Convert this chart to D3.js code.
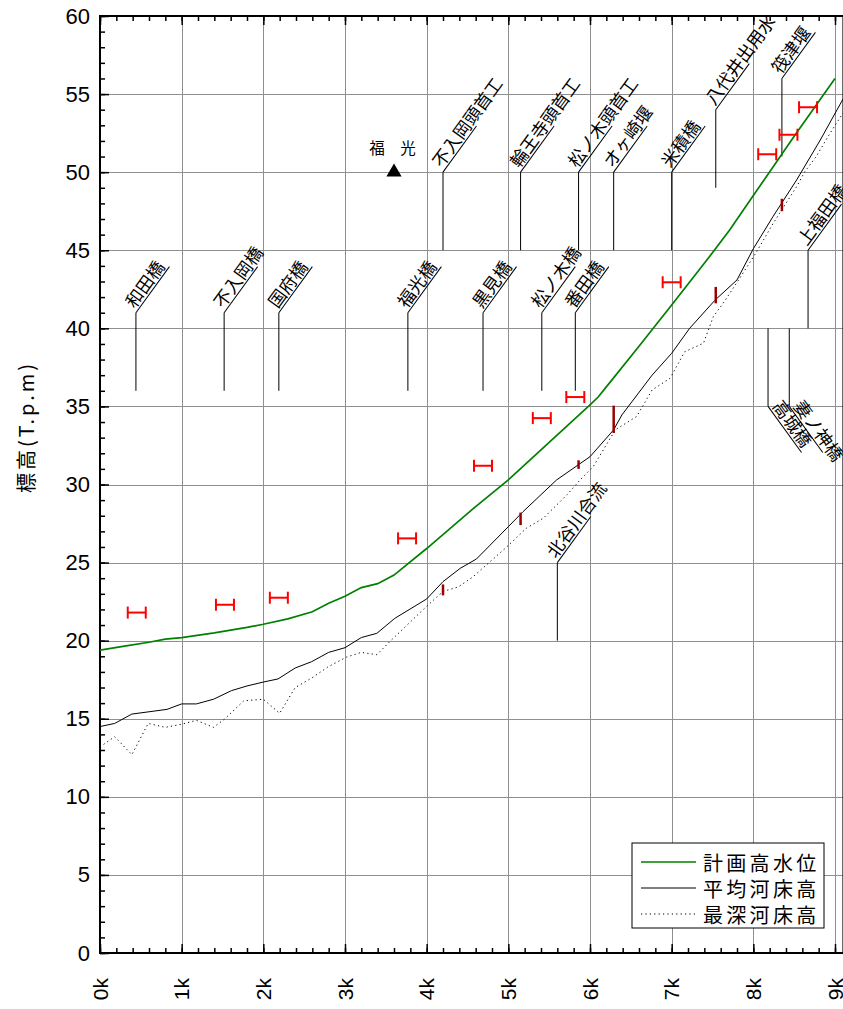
<!DOCTYPE html>
<html><head><meta charset="utf-8">
<script src="https://cdn.jsdelivr.net/npm/d3@7"></script>
<style>body{margin:0;background:#fff} svg{display:block}</style>
</head><body>
<script>
// ---------------- data ----------------
const kmTicks = [0,1,2,3,4,5,6,7,8,9];
const xTickLabels = ["0k","1k","2k","3k","4k","5k","6k","7k","8k","9k"];
const yTicks = [0,5,10,15,20,25,30,35,40,45,50,55,60];
const seriesNames = ["計画高水位","平均河床高","最深河床高"];
const yTitle = "標高(T.p.m)";

// 計画高水位 [km, m]
const planHWL = [[0,19.4],[0.3,19.65],[0.6,19.9],[0.8,20.1],[1.0,20.2],[1.4,20.5],[1.8,20.85],[2.0,21.05],[2.3,21.4],[2.6,21.85],[2.8,22.4],[3.0,22.85],[3.2,23.4],[3.4,23.65],[3.6,24.2],[4.0,25.9],[4.57,28.45],[5.0,30.3],[5.5,32.7],[6.0,35.1],[6.1,35.6],[6.2,36.25],[6.6,38.85],[7.0,41.5],[7.45,44.5],[7.71,46.3],[8.0,48.5],[8.5,52.3],[9.0,56.0]];
// 平均河床高
const meanBed = [[0,14.5],[0.18,14.7],[0.39,15.3],[0.82,15.6],[1.0,15.95],[1.18,15.95],[1.39,16.25],[1.61,16.8],[1.8,17.1],[2.0,17.35],[2.18,17.55],[2.39,18.25],[2.59,18.65],[2.8,19.25],[3.0,19.55],[3.2,20.2],[3.39,20.47],[3.61,21.43],[4.0,22.67],[4.2,23.78],[4.41,24.63],[4.61,25.23],[5.0,27.3],[5.18,28.26],[5.59,30.29],[6.0,31.78],[6.29,33.5],[6.39,34.45],[6.76,37.0],[7.0,38.4],[7.22,40.0],[7.53,41.8],[7.8,43.1],[8.0,45.1],[8.24,47.15],[8.53,49.5],[8.82,52.06],[9.1,54.7]];
// 最深河床高
const deepBed = [[0,13.2],[0.18,13.85],[0.39,12.7],[0.59,14.7],[0.8,14.45],[1.0,14.65],[1.18,14.9],[1.39,14.45],[1.53,15.0],[1.76,16.15],[2.0,16.25],[2.2,15.35],[2.39,17.0],[2.59,17.6],[2.8,18.35],[3.02,18.95],[3.2,19.25],[3.39,19.1],[3.57,20.05],[4.0,22.2],[4.2,23.15],[4.39,23.45],[4.57,24.1],[4.98,26.0],[5.22,27.2],[5.43,27.85],[5.72,29.35],[5.88,30.3],[6.04,31.15],[6.31,33.5],[6.57,34.35],[6.76,36.05],[6.98,36.8],[7.16,38.5],[7.39,39.05],[7.51,40.75],[7.63,41.6],[7.82,43.1],[8.04,44.9],[8.24,46.7],[8.53,49.07],[8.63,50.03],[8.77,51.0],[8.94,52.5],[9.1,53.8]];
// red H markers [km, m]
const hMarkers = [[0.45,21.8],[1.53,22.3],[2.19,22.75],[3.76,26.55],[4.69,31.2],[5.41,34.25],[5.82,35.6],[7.0,42.95],[8.17,51.15],[8.43,52.4],[8.67,54.15]];
// dark red bars [km, low, high]
const redBars = [[4.2,22.9,23.6],[5.15,27.4,28.2],[5.86,31.0,31.55],[6.29,33.3,35.05],[7.54,41.6,42.65],[8.35,47.5,48.3]];
// annotation labels
const labelKm   = [0.44,1.52,2.19,3.77,4.69,5.41,5.82,4.2,5.15,5.86,6.29,7.0,7.54,8.35,8.67,8.18,8.44,5.6];
const labelFrom = [36,36,36,36,36,36,36,45,45,45,45,45,49,51,40,40,40,20];
const labelTo   = [41,41,41,41,41,41,41,50,50,50,50,50,54,56,45,35,35,25];
const labelText = ["和田橋","不入岡橋","国府橋","福光橋","黒見橋","松ノ木橋","番田橋","不入岡頭首工","輪王寺頭首工","松ノ木頭首工","オヶ崎堰","米積橋","八代井出用水","筏津堰","上福田橋","高城橋","妻ノ神橋","北谷川合流"];
const triangleMark = {km:3.6, v:50, text:"福　光"};

// ---------------- drawing ----------------
const W = 843, H = 1009;
const CJK = "'Noto Sans CJK JP','Noto Sans',sans-serif";
const svg = d3.select("body").append("svg").attr("width", W).attr("height", H);
const x = d3.scaleLinear().domain([0, 9]).range([100, 835]);
const y = d3.scaleLinear().domain([0, 60]).range([953, 16]);
const xMax = 9.1;

svg.append("defs").append("clipPath").attr("id", "plotclip")
  .append("rect").attr("x", x(0)).attr("y", y(60)).attr("width", x(xMax) - x(0)).attr("height", y(0) - y(60));

// grid
const grid = svg.append("g").attr("stroke", "#8f8f8f").attr("stroke-width", 1);
grid.selectAll("line.v").data(kmTicks.filter(d => d > 0)).join("line")
  .attr("x1", d => Math.round(x(d)) + 0.5).attr("x2", d => Math.round(x(d)) + 0.5)
  .attr("y1", y(0)).attr("y2", y(60));
grid.selectAll("line.h").data(yTicks.filter(d => d > 0 && d < 60)).join("line")
  .attr("x1", x(0)).attr("x2", x(xMax))
  .attr("y1", d => Math.round(y(d)) + 0.5).attr("y2", d => Math.round(y(d)) + 0.5);

// axes (ticks inward)
const minorY = d3.range(0, 61);
const minorX = d3.range(0, 46).map(i => +(i * 0.2).toFixed(1)).filter(d => d <= xMax);
function styleAxis(g) { g.select(".domain").remove(); g.selectAll("line").attr("stroke", "#000").attr("stroke-width", 1.5); }
svg.append("g").attr("transform", `translate(${x(0)},0)`)
  .call(d3.axisLeft(y).tickValues(minorY).tickSizeInner(-5).tickSizeOuter(0).tickFormat(""))
  .call(styleAxis);
const yAx = svg.append("g").attr("transform", `translate(${x(0)},0)`)
  .call(d3.axisLeft(y).tickValues(yTicks).tickSizeInner(-9).tickSizeOuter(0).tickPadding(10))
  .call(styleAxis);
yAx.selectAll("text").attr("font-family", "'Liberation Sans',Arial,sans-serif").attr("font-size", 22).attr("fill", "#000");

svg.append("g").attr("transform", `translate(0,${y(0)})`)
  .call(d3.axisBottom(x).tickValues(minorX).tickSizeInner(-5).tickSizeOuter(0).tickFormat(""))
  .call(styleAxis);
svg.append("g").attr("transform", `translate(0,${y(0)})`)
  .call(d3.axisBottom(x).tickValues(kmTicks).tickSizeInner(-9).tickSizeOuter(0).tickFormat(""))
  .call(styleAxis);
svg.append("g").attr("transform", `translate(0,${y(60)})`)
  .call(d3.axisTop(x).tickValues(minorX).tickSizeInner(-5).tickSizeOuter(0).tickFormat(""))
  .call(styleAxis);
svg.append("g").attr("transform", `translate(0,${y(60)})`)
  .call(d3.axisTop(x).tickValues(kmTicks).tickSizeInner(-9).tickSizeOuter(0).tickFormat(""))
  .call(styleAxis);

// x tick labels (rotated)
svg.append("g").selectAll("text").data(kmTicks).join("text")
  .attr("transform", d => `translate(${x(d)},978) rotate(-90)`)
  .attr("text-anchor", "end").attr("dominant-baseline", "central")
  .attr("font-family", "'Liberation Sans',Arial,sans-serif").attr("font-size", 21)
  .text((d, i) => xTickLabels[i]);

// frame
const frame = svg.append("g").attr("stroke", "#000").attr("stroke-width", 2).attr("fill", "none");
frame.append("line").attr("x1", x(0)).attr("x2", x(0)).attr("y1", y(0) + 1).attr("y2", y(60) - 1);
frame.append("line").attr("x1", x(0) - 1).attr("x2", x(xMax)).attr("y1", y(0)).attr("y2", y(0));
frame.append("line").attr("x1", x(0) - 1).attr("x2", x(xMax)).attr("y1", y(60)).attr("y2", y(60));
frame.append("line").attr("x1", x(xMax)).attr("x2", x(xMax)).attr("y1", y(0)).attr("y2", y(60)).attr("stroke-width", 1.5);

// y title
svg.append("text").attr("transform", "translate(25,427) rotate(-90)")
  .attr("text-anchor", "middle").attr("dominant-baseline", "central")
  .attr("font-family", CJK).attr("font-size", 20).attr("letter-spacing", 3)
  .text(yTitle);

const plot = svg.append("g").attr("clip-path", "url(#plotclip)");

// annotation labels
const lab = plot.append("g").attr("font-family", CJK).attr("font-size", 17.5);
labelText.forEach((t, i) => {
  const g = lab.append("g").attr("transform", `translate(${x(labelKm[i])},${y(labelTo[i])})`);
  g.append("line").attr("x1", 0).attr("x2", 0).attr("y1", y(labelFrom[i]) - y(labelTo[i])).attr("y2", 0)
    .attr("stroke", "#000").attr("stroke-width", 1);
  const up = labelTo[i] > labelFrom[i];
  const r = g.append("g").attr("transform", `rotate(${up ? -54 : 54})`);
  r.append("line").attr("x1", 0).attr("x2", 57).attr("y1", 0).attr("y2", 0).attr("stroke", "#000").attr("stroke-width", 1);
  r.append("text").attr("x", 2).attr("y", -3).text(t);
});

// triangle mark
plot.append("path").attr("d", d3.symbol(d3.symbolTriangle, 100)())
  .attr("transform", `translate(${x(triangleMark.km)},${y(triangleMark.v)})`).attr("fill", "#000");
plot.append("text").attr("x", x(triangleMark.km) - 1.5).attr("y", y(triangleMark.v) - 18)
  .attr("text-anchor", "middle").attr("font-family", CJK).attr("font-size", 15.5).text(triangleMark.text);

// series
const line = d3.line().x(d => x(d[0])).y(d => y(d[1]));
plot.append("path").datum(deepBed).attr("d", line).attr("fill", "none").attr("stroke", "#000").attr("stroke-width", 1).attr("stroke-dasharray", "1.2,3.2");
plot.append("path").datum(meanBed).attr("d", line).attr("fill", "none").attr("stroke", "#000").attr("stroke-width", 1);
plot.append("path").datum(planHWL).attr("d", line).attr("fill", "none").attr("stroke", "#008000").attr("stroke-width", 1.7);

// dark red bars
plot.append("g").selectAll("line").data(redBars).join("line")
  .attr("x1", d => x(d[0])).attr("x2", d => x(d[0])).attr("y1", d => y(d[1])).attr("y2", d => y(d[2]))
  .attr("stroke", "#9a0000").attr("stroke-width", 2.5);

// red H markers
const hm = plot.append("g").attr("stroke", "#ff0000").attr("stroke-width", 2);
hm.selectAll("g").data(hMarkers).join("g")
  .attr("transform", d => `translate(${x(d[0])},${y(d[1])})`)
  .each(function () {
    const g = d3.select(this);
    g.append("line").attr("x1", -9).attr("x2", 9).attr("y1", 0).attr("y2", 0);
    g.append("line").attr("x1", -9).attr("x2", -9).attr("y1", -6).attr("y2", 6);
    g.append("line").attr("x1", 9).attr("x2", 9).attr("y1", -6).attr("y2", 6);
  });

// legend
const lg = svg.append("g").attr("transform", "translate(632,843)");
lg.append("rect").attr("width", 192).attr("height", 85).attr("fill", "#fff").attr("stroke", "#000").attr("stroke-width", 1);
const lstyles = [{c: "#008000", w: 1.7, da: null}, {c: "#000", w: 1, da: null}, {c: "#000", w: 1, da: "1.2,3.2"}];
seriesNames.forEach((n, i) => {
  const yy = 19 + i * 26;
  lg.append("line").attr("x1", 9).attr("x2", 64).attr("y1", yy).attr("y2", yy)
    .attr("stroke", lstyles[i].c).attr("stroke-width", lstyles[i].w).attr("stroke-dasharray", lstyles[i].da);
  lg.append("text").attr("x", 71).attr("y", yy).attr("dominant-baseline", "central")
    .attr("font-family", CJK).attr("font-size", 20).attr("letter-spacing", 3.3).text(n);
});
</script>
</body></html>
